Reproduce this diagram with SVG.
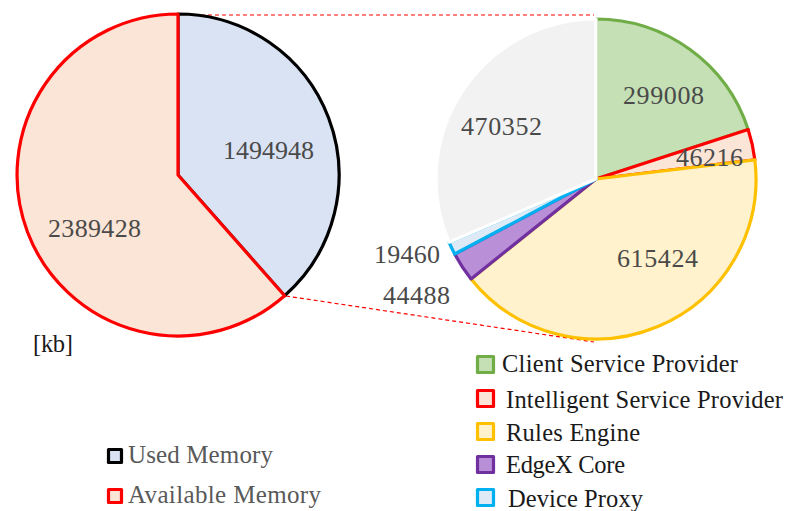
<svg xmlns="http://www.w3.org/2000/svg" width="787" height="511" viewBox="0 0 787 511">
<style>
.s{stroke-width:3.2;stroke-linejoin:round}
.num{font-family:"Liberation Serif","Times New Roman",serif;font-size:26px;fill:#4a4a4a}
.lg{font-family:"Liberation Serif","Times New Roman",serif;font-size:24.5px;fill:#1a1a1a}
.lg2{font-family:"Liberation Serif","Times New Roman",serif;font-size:25px;fill:#595959}
.dash{stroke:#ff0000;stroke-width:1.2;stroke-dasharray:4 3;fill:none}
</style>
<g id="connectors">
<line class="dash" x1="180" y1="15" x2="594" y2="15"/>
<line class="dash" x1="286" y1="296" x2="594" y2="342"/>
</g>
<g id="left-pie">
<path id="used" class="s" d="M178,175 L178,14 A161,161 0 0 1 284.6,295.7 Z" fill="#dae3f3" stroke="#000"/>
<path id="available" class="s" d="M178,175 L284.6,295.7 A161,161 0 1 1 178,14 Z" fill="#fbe5d6" stroke="#ff0000"/>
<text class="num" x="223" y="159" textLength="91">1494948</text>
<text class="num" x="48" y="237" textLength="93">2389428</text>
</g>
<g id="right-pie">
<path id="client" class="s" d="M596,179 L596,19 A160,160 0 0 1 748.17,129.56 Z" fill="#c5e0b4" stroke="#70ad47"/>
<path id="intelligent" class="s" d="M596,179 L748.17,129.56 A160,160 0 0 1 754.85,159.87 Z" fill="#fbe5d6" stroke="#ff0000"/>
<path id="rules" class="s" d="M596,179 L754.85,159.87 A160,160 0 0 1 471.05,278.93 Z" fill="#fff2cc" stroke="#ffc000"/>
<path id="edgex" class="s" d="M596,179 L471.05,278.93 A160,160 0 0 1 454.66,253.99 Z" fill="#b98fd8" stroke="#7030a0"/>
<path id="device" class="s" d="M596,179 L454.66,253.99 A160,160 0 0 1 449.01,242.2 Z" fill="#deebf7" stroke="#00b0f0"/>
<path id="other" class="s" d="M596,179 L449.01,242.2 A160,160 0 0 1 596,19 Z" fill="#f2f2f2" stroke="#fff"/>
<text class="num" x="623" y="104" textLength="81">299008</text>
<text class="num" x="676" y="166" textLength="67">46216</text>
<text class="num" x="461" y="135" textLength="81">470352</text>
<text class="num" x="617" y="267" textLength="81">615424</text>
<text class="num" x="374" y="263" textLength="66">19460</text>
<text class="num" x="383" y="304" textLength="67">44488</text>
</g>
<g id="unit">
<text class="lg" x="33" y="352" textLength="40">[kb]</text>
</g>
<g id="legend-left">
<rect class="s" x="108.5" y="449.5" width="13" height="13" fill="#dae3f3" stroke="#000"/>
<text class="lg2" x="128" y="463" textLength="145">Used Memory</text>
<rect class="s" x="108.5" y="489.5" width="13" height="13" fill="#fbe5d6" stroke="#ff0000"/>
<text class="lg2" x="128" y="503" textLength="193">Available Memory</text>
</g>
<g id="legend-right">
<rect class="s" x="477.5" y="356.5" width="16" height="16" fill="#c5e0b4" stroke="#70ad47"/>
<text class="lg" x="502" y="372" textLength="236">Client Service Provider</text>
<rect class="s" x="477.5" y="390.5" width="16" height="16" fill="#fbe5d6" stroke="#ff0000"/>
<text class="lg" x="506" y="408" textLength="277">Intelligent Service Provider</text>
<rect class="s" x="477.5" y="423.5" width="16" height="16" fill="#fff2cc" stroke="#ffc000"/>
<text class="lg" x="506" y="441" textLength="134">Rules Engine</text>
<rect class="s" x="477.5" y="456.5" width="16" height="16" fill="#b98fd8" stroke="#7030a0"/>
<text class="lg" x="506" y="473" textLength="119">EdgeX Core</text>
<rect class="s" x="477.5" y="489.5" width="16" height="16" fill="#deebf7" stroke="#00b0f0"/>
<text class="lg" x="508" y="507" textLength="135">Device Proxy</text>
</g>
</svg>
